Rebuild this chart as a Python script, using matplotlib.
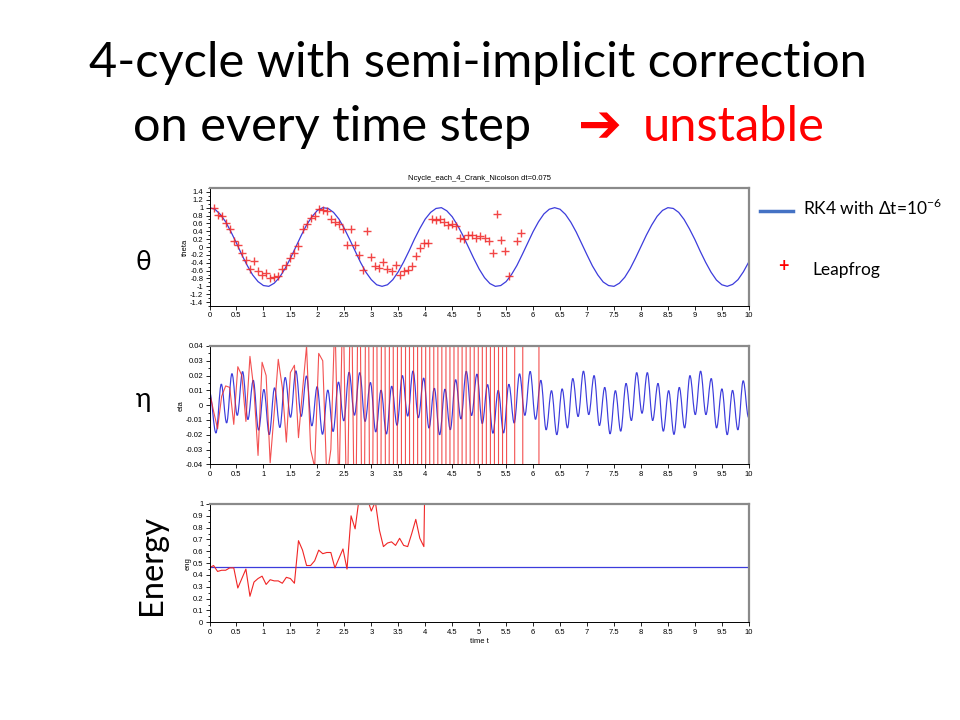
import numpy as np
import matplotlib
matplotlib.use("Agg")
import matplotlib.pyplot as plt
from matplotlib.ticker import AutoMinorLocator, FuncFormatter
from matplotlib.path import Path
from matplotlib.patches import PathPatch

# ---------------- data ----------------
rk4_dt = 0.1
rk4_theta = [1.00, 0.96, 0.83, 0.64, 0.38, 0.10, -0.20, -0.47, -0.71, -0.88,
             -0.98, -1.00, -0.92, -0.77, -0.55, -0.29, 0.00, 0.29, 0.56, 0.77,
             0.93, 1.00, 0.98, 0.88, 0.71, 0.47, 0.19, -0.10, -0.39, -0.64,
             -0.83, -0.96, -1.00, -0.96, -0.83, -0.63, -0.38, -0.10, 0.20, 0.47,
             0.71, 0.88, 0.98, 1.00, 0.92, 0.77, 0.55, 0.29, 0.00, -0.29,
             -0.56, -0.78, -0.93, -1.00, -0.98, -0.88, -0.70, -0.47, -0.19, 0.10,
             0.39, 0.64, 0.84, 0.96, 1.00, 0.96, 0.83, 0.63, 0.38, 0.09,
             -0.20, -0.48, -0.71, -0.89, -0.98, -1.00, -0.92, -0.77, -0.55, -0.28,
             0.01, 0.30, 0.56, 0.78, 0.93, 1.00, 0.98, 0.88, 0.70, 0.46,
             0.19, -0.11, -0.39, -0.64, -0.84, -0.96, -1.00, -0.95, -0.83, -0.63,
             -0.38]

# leapfrog samples, dt = 0.075, starting at t = 0.075
lf_dt = 0.075
theta_lf = [1.00, 0.82, 0.79, 0.62, 0.47, 0.15, 0.05, -0.14, -0.34, -0.57,
            -0.36, -0.62, -0.72, -0.66, -0.80, -0.76, -0.74, -0.55, -0.47, -0.28,
            -0.14, 0.03, 0.45, 0.59, 0.74, 0.78, 0.97, 0.93, 0.91, 0.70,
            0.63, 0.59, 0.47, 0.06, 0.45, 0.06, -0.21, -0.58, 0.41, -0.25,
            -0.49, -0.53, -0.38, -0.55, -0.61, -0.45, -0.71, -0.62, -0.58, -0.48,
            -0.24, -0.02, 0.09, 0.10, 0.70, 0.68, 0.72, 0.64, 0.57, 0.58,
            0.53, 0.22, 0.21, 0.31, 0.31, 0.23, 0.28, 0.24, 0.14, -0.14,
            0.84, 0.17, -0.11, -0.74, np.nan, 0.14, 0.36]

# RK4 eta: value at t=0, then successive extrema of the fast oscillation
eta_rk4_start = 0.009
eta_rk4_first_extremum_t = 0.12
eta_rk4_half_period = 0.09875
eta_rk4_extrema = [-0.0188, 0.0142, -0.0120, 0.0213, -0.0069, 0.0227, -0.0097, 0.0168, -0.0169, 0.0106,
                   -0.0199, 0.0117, -0.0151, 0.0187, -0.0082, 0.0232, -0.0076, 0.0197, -0.0140, 0.0125,
                   -0.0197, 0.0102, -0.0178, 0.0156, -0.0106, 0.0222, -0.0068, 0.0220, -0.0110, 0.0153,
                   -0.0181, 0.0101, -0.0195, 0.0128, -0.0136, 0.0200, -0.0074, 0.0231, -0.0085, 0.0183,
                   -0.0155, 0.0114, -0.0200, 0.0108, -0.0166, 0.0172, -0.0093, 0.0229, -0.0070, 0.0210,
                   -0.0124, 0.0139, -0.0190, 0.0100, -0.0188, 0.0141, -0.0121, 0.0212, -0.0069, 0.0228,
                   -0.0096, 0.0168, -0.0167, 0.0098, -0.0200, 0.0110, -0.0154, 0.0180, -0.0077, 0.0230,
                   -0.0064, 0.0200, -0.0138, 0.0120, -0.0194, 0.0098, -0.0176, 0.0147, -0.0104, 0.0220,
                   -0.0055, 0.0220, -0.0104, 0.0147, -0.0176, 0.0098, -0.0198, 0.0120, -0.0154, 0.0200,
                   -0.0064, 0.0230, -0.0064, 0.0180, -0.0154, 0.0110, -0.0200, 0.0100, -0.0167, 0.0165,
                   -0.0082]

# leapfrog eta, dt = 0.075 starting at t = 0
eta_lf = [0.009, -0.004, -0.016, 0.006, 0.013, 0.012, -0.013, 0.026, 0.020, -0.011,
          0.033, 0.010, -0.034, 0.029, 0.020, -0.039, -0.005, 0.031, 0.012, -0.025,
          0.022, 0.027, -0.022, 0.010, 0.040, -0.030, -0.042, 0.035, 0.030, -0.050,
          -0.030, 0.060, -0.060, 0.080, -0.090, 0.11, -0.13, 0.16, -0.20, 0.25,
          -0.30, 0.37, -0.45, 0.55, -0.68, 0.83, -1.0, 1.2, -1.5, 1.8,
          -2.2, 2.7, -3.3, 4.0, -4.9, 6.0, -7.3, 8.9, -11.0, 13.0,
          -16.0, 20.0, -24.0, 29.0, -36.0, 44.0, -54.0, 66.0, -80.0, 98.0,
          -120.0, 150.0, -180.0, 220.0, -270.0, -330.0, 400.0, 490.0, -600.0, -730.0,
          -890.0, -1090.0, 1330.0]

energy_rk4 = 0.47
energy_lf = [0.46, 0.48, 0.43, 0.44, 0.44, 0.46, 0.46, 0.29, 0.37, 0.45,
             0.22, 0.34, 0.37, 0.39, 0.32, 0.36, 0.35, 0.35, 0.33, 0.38,
             0.37, 0.33, 0.69, 0.61, 0.48, 0.48, 0.52, 0.61, 0.58, 0.59,
             0.59, 0.46, 0.54, 0.62, 0.45, 0.90, 0.79, 1.05, 1.10, 1.05,
             0.94, 1.02, 0.78, 0.64, 0.67, 0.68, 0.65, 0.71, 0.65, 0.64,
             0.75, 0.87, 0.71, 0.64, 3.0]

title_line1 = "4-cycle with semi-implicit correction"
title_line2a = "on every time step"
title_arrow = "\u2794"
title_line2b = "unstable"
plot_title = "Ncycle_each_4_Crank_Nicolson dt=0.075"
legend_rk4 = "RK4 with \u0394t=10$^{\\mathregular{-6}}$"
legend_lf = "Leapfrog"

# ---------------- derived sample times ----------------
rk4_t = np.arange(len(rk4_theta)) * rk4_dt
theta_lf_t = (np.arange(len(theta_lf)) + 1) * lf_dt
eta_rk4_t = np.concatenate([[0.0], eta_rk4_first_extremum_t + eta_rk4_half_period * np.arange(len(eta_rk4_extrema))])
eta_rk4_v = np.concatenate([[eta_rk4_start], eta_rk4_extrema])
eta_lf_t = np.arange(len(eta_lf)) * lf_dt
energy_lf_t = np.arange(len(energy_lf)) * lf_dt

# ---------------- figure ----------------
BLUE = "#3c3cdc"
RED = "#f02525"
W, H = 960, 720
fig = plt.figure(figsize=(9.6, 7.2), dpi=100)
fig.patch.set_facecolor("white")

def px_axes(x0, y0, x1, y1):
    return fig.add_axes([x0 / W, 1 - y1 / H, (x1 - x0) / W, (y1 - y0) / H])

ax1 = px_axes(209.5, 188, 748.8, 306)
ax2 = px_axes(209.5, 346, 748.8, 464.3)
ax3 = px_axes(209.5, 504, 748.8, 622.3)

def fmt(v, pos):
    s = f"{round(v, 4):g}"
    return "0" if s == "-0" else s

for ax in (ax1, ax2, ax3):
    ax.set_xlim(0, 10)
    ax.set_xticks(np.arange(0, 10.01, 0.5))
    ax.xaxis.set_major_formatter(FuncFormatter(fmt))
    ax.yaxis.set_major_formatter(FuncFormatter(fmt))
    ax.yaxis.set_minor_locator(AutoMinorLocator(2))
    ax.tick_params(which="both", direction="out", labelsize=5.5, width=0.6, length=3, pad=1.5,
                   top=False, right=False)
    ax.tick_params(which="minor", length=1.6)
    for s in ("top", "right"):
        ax.spines[s].set_color("#8a8a8a")
        ax.spines[s].set_linewidth(1.6)
    for s in ("left", "bottom"):
        ax.spines[s].set_color("black")
        ax.spines[s].set_linewidth(0.7)

ax1.set_ylim(-1.5, 1.5)
ax1.set_yticks(np.arange(-1.4, 1.41, 0.2))
ax2.set_ylim(-0.04, 0.04)
ax2.set_yticks(np.arange(-0.04, 0.0401, 0.01))
ax3.set_ylim(0, 1)
ax3.set_yticks(np.arange(0, 1.01, 0.1))
for ax in (ax1, ax2, ax3):
    for lab in ax.get_xticklabels() + ax.get_yticklabels():
        lab.set_family("Liberation Sans")

# theta
ax1.plot(rk4_t, rk4_theta, color=BLUE, lw=0.9)
ax1.plot(theta_lf_t, theta_lf, ls="none", marker="+", ms=6, mew=1.0, color=RED, alpha=0.85)

# eta RK4: smooth curve through the extrema (horizontal tangents at each extremum)
verts = [(eta_rk4_t[0], eta_rk4_v[0])]
codes = [Path.MOVETO]
for i in range(1, len(eta_rk4_t)):
    ta, va = eta_rk4_t[i - 1], eta_rk4_v[i - 1]
    tb, vb = eta_rk4_t[i], eta_rk4_v[i]
    h = tb - ta
    verts += [(ta + 0.364 * h, va), (tb - 0.364 * h, vb), (tb, vb)]
    codes += [Path.CURVE4] * 3
ax2.add_patch(PathPatch(Path(verts, codes), fill=False, edgecolor=BLUE, lw=0.85))
ax2.plot(eta_lf_t, eta_lf, color=RED, lw=0.8, alpha=0.8)

# energy
ax3.plot([0, 10], [energy_rk4, energy_rk4], color=BLUE, lw=0.9)
ax3.plot(energy_lf_t, energy_lf, color=RED, lw=0.8)

ax1.set_title(plot_title, fontsize=5.5, family="Liberation Sans", pad=6)
ax1.set_ylabel("theta", fontsize=5.5, family="Liberation Sans", labelpad=1)
ax2.set_ylabel("eta", fontsize=5.5, family="Liberation Sans", labelpad=1)
ax3.set_ylabel("eng", fontsize=5.5, family="Liberation Sans", labelpad=1)
ax3.set_xlabel("time t", fontsize=5.5, family="Liberation Sans", labelpad=2)

# ---------------- slide text ----------------
FAM = ["Lato", "Noto Sans", "DejaVu Sans"]
renderer = fig.canvas.get_renderer()

def fit_width(txt, target_px):
    bb = txt.get_window_extent(renderer)
    txt.set_fontsize(txt.get_fontsize() * target_px / bb.width)
    return txt.get_fontsize()

t1 = fig.text(478 / W, 1 - 77 / H, title_line1, ha="center", va="baseline", fontsize=30, family=FAM)
fs = fit_width(t1, 778.0)
fig.text(133 / W, 1 - 141 / H, title_line2a, ha="left", va="baseline", fontsize=fs, family=FAM)
ta = fig.text(578 / W, 1 - 127 / H, title_arrow, ha="left", va="center", fontsize=fs,
              family=["DejaVu Sans"], fontweight="bold", color="#ff0000")
fit_width(ta, 44.0)
fig.text(643 / W, 1 - 141 / H, title_line2b, ha="left", va="baseline", fontsize=fs, family=FAM,
         color="#ff0000")

fig.text(143 / W, 1 - 262 / H, "\u03b8", ha="center", va="center", fontsize=19, family=FAM)
fig.text(143 / W, 1 - 400 / H, "\u03b7", ha="center", va="center", fontsize=19, family=FAM)
fig.text(152 / W, 1 - 565 / H, "Energy", ha="center", va="center", fontsize=23.5, family=FAM,
         rotation=90)

# legend on the slide
fig.add_artist(plt.Line2D([760 / W, 793 / W], [1 - 211 / H, 1 - 211 / H], color="#4472c4", lw=2.5))
fig.text(803 / W, 1 - 208 / H, legend_rk4, ha="left", va="center", fontsize=12.5, family=FAM)
fig.text(783 / W, 1 - 267 / H, "+", ha="center", va="center", fontsize=13, fontweight="bold",
         color="#ff0000", family=FAM)
fig.text(812 / W, 1 - 270 / H, legend_lf, ha="left", va="center", fontsize=12.5, family=FAM)

fig.savefig("out.png", dpi=100, facecolor="white")
